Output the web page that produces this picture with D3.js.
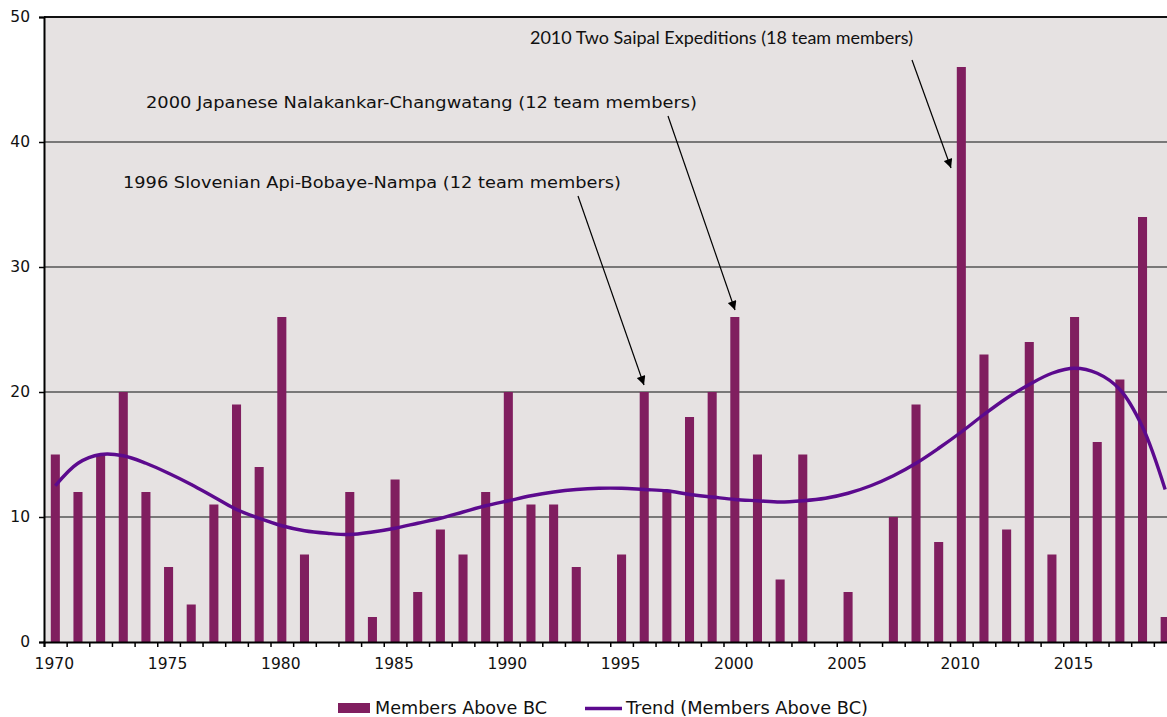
<!DOCTYPE html>
<html>
<head>
<meta charset="utf-8">
<script src="https://cdn.jsdelivr.net/npm/d3@7"></script>
<style>
  html, body { margin: 0; padding: 0; background: #fff; }
  svg { display: block; font-family: "DejaVu Sans", Verdana, sans-serif; }
</style>
</head>
<body>
<svg id="chart" width="1167" height="717"></svg>
<script>
// data
const years = [1970, 1971, 1972, 1973, 1974, 1975, 1976, 1977, 1978, 1979,
  1980, 1981, 1982, 1983, 1984, 1985, 1986, 1987, 1988, 1989,
  1990, 1991, 1992, 1993, 1994, 1995, 1996, 1997, 1998, 1999,
  2000, 2001, 2002, 2003, 2004, 2005, 2006, 2007, 2008, 2009,
  2010, 2011, 2012, 2013, 2014, 2015, 2016, 2017, 2018, 2019];
const members = [15, 12, 15, 20, 12, 6, 3, 11, 19, 14,
  26, 7, 0, 12, 2, 13, 4, 9, 7, 12,
  20, 11, 11, 6, 0, 7, 20, 12, 18, 20,
  26, 15, 5, 15, 0, 4, 0, 10, 19, 8,
  46, 23, 9, 24, 7, 26, 16, 21, 34, 2];
const trend = [12.5, 14.3, 15.0, 14.9, 14.3, 13.5, 12.6, 11.6, 10.6, 9.9,
  9.3, 8.9, 8.7, 8.6, 8.8, 9.1, 9.5, 9.9, 10.4, 10.9,
  11.3, 11.7, 12.0, 12.2, 12.3, 12.3, 12.2, 12.1, 11.8, 11.6,
  11.4, 11.3, 11.2, 11.3, 11.5, 11.9, 12.5, 13.3, 14.3, 15.5,
  16.8, 18.2, 19.5, 20.6, 21.5, 21.9, 21.5, 20.2, 17.2, 12.2];
const yTicks = [0, 10, 20, 30, 40, 50];
const xTickLabels = [1970, 1975, 1980, 1985, 1990, 1995, 2000, 2005, 2010, 2015];
const notes = [
  { year: 1996, text: "1996 Slovenian Api-Bobaye-Nampa (12 team members)" },
  { year: 2000, text: "2000 Japanese Nalakankar-Changwatang (12 team members)" },
  { year: 2010, text: "2010 Two Saipal Expeditions (18 team members)" }
];
const seriesNames = ["Members Above BC", "Trend (Members Above BC)"];

const barColor = "#801e5f";
const trendColor = "#5c0a8e";

const svg = d3.select("#chart");
const mLeft = 44, mTop = 17, mBottom = 642;
const step = 22.65;
const mRight = mLeft + step * years.length; // runs past the window edge, as in the original

const x = d3.scaleBand().domain(years).range([mLeft, mRight]).paddingInner(0.6).paddingOuter(0.3);
const xl = d3.scaleLinear().domain([years[0], years[years.length - 1] + 1]).range([mLeft, mRight]);
const y = d3.scaleLinear().domain([0, 50]).range([mBottom, mTop]);
const cx = d => x(d) + x.bandwidth() / 2;

// plot background
svg.append("rect")
  .attr("x", mLeft).attr("y", mTop)
  .attr("width", mRight - mLeft).attr("height", mBottom - mTop)
  .attr("fill", "#e6e2e2");

// gridlines
svg.append("g")
  .selectAll("line")
  .data(yTicks.filter(d => d > 0))
  .join("line")
  .attr("x1", mLeft).attr("x2", mRight)
  .attr("y1", d => y(d)).attr("y2", d => y(d))
  .attr("stroke", d => d === 50 ? "#111" : "#555")
  .attr("stroke-width", d => d === 50 ? 2 : 1.6);

// bars
svg.append("g")
  .selectAll("rect")
  .data(years)
  .join("rect")
  .attr("x", d => x(d))
  .attr("y", (d, i) => y(members[i]))
  .attr("width", x.bandwidth())
  .attr("height", (d, i) => mBottom - y(members[i]))
  .attr("fill", barColor);

// trend
const line = d3.line()
  .x((d, i) => cx(years[i]))
  .y(d => y(d))
  .curve(d3.curveCatmullRom.alpha(0.5));

svg.append("path")
  .datum(trend)
  .attr("d", line)
  .attr("fill", "none")
  .attr("stroke", trendColor)
  .attr("stroke-width", 3.4);

// y axis
const yAxis = svg.append("g")
  .attr("transform", `translate(${mLeft},0)`)
  .call(d3.axisLeft(y).tickValues(yTicks).tickSize(5).tickPadding(9));
yAxis.select(".domain").attr("stroke", "#000").attr("stroke-width", 2);
yAxis.selectAll(".tick line").attr("stroke", "#000").attr("stroke-width", 1.5);
yAxis.selectAll("text").attr("font-size", 15.5).attr("fill", "#111")
  .attr("font-family", "DejaVu Sans");

// x axis: ticks sit on the band edges
const xAxis = svg.append("g")
  .attr("transform", `translate(0,${mBottom})`)
  .call(d3.axisBottom(xl).tickValues(years.concat(years[years.length - 1] + 1)).tickSize(5).tickFormat(""));
xAxis.select(".domain").attr("stroke", "#000").attr("stroke-width", 2);
xAxis.selectAll(".tick line").attr("stroke", "#000").attr("stroke-width", 1.5);

svg.append("g")
  .selectAll("text")
  .data(xTickLabels)
  .join("text")
  .attr("x", d => cx(d) - 1)
  .attr("y", 669)
  .attr("text-anchor", "middle")
  .attr("font-size", 15.5)
  .attr("fill", "#111")
  .text(d => d);

// annotations
const defs = svg.append("defs");
defs.append("marker")
  .attr("id", "arrow")
  .attr("viewBox", "0 0 10 10")
  .attr("refX", 10).attr("refY", 5)
  .attr("markerWidth", 11).attr("markerHeight", 9)
  .attr("markerUnits", "userSpaceOnUse")
  .attr("orient", "auto")
  .append("path")
  .attr("d", "M0,0L10,5L0,10Z")
  .attr("fill", "#000");

const noteLayout = [
  { tx: 123, ty: 188, w: 498, size: 16.5, font: "DejaVu Sans", from: [578, 196], to: [644, 385] },
  { tx: 146, ty: 108, w: 551, size: 16.5, font: "DejaVu Sans", from: [668, 116], to: [735, 310] },
  { tx: 530, ty: 44, w: 383, size: 17.5, font: "Lato", from: [912, 60], to: [951, 168] }
];

notes.forEach((n, i) => {
  const l = noteLayout[i];
  svg.append("text")
    .attr("x", l.tx).attr("y", l.ty)
    .attr("font-family", l.font)
    .attr("font-size", l.size)
    .attr("fill", "#111")
    .attr("textLength", l.w)
    .attr("lengthAdjust", "spacingAndGlyphs")
    .text(n.text);
  svg.append("line")
    .attr("x1", l.from[0]).attr("y1", l.from[1])
    .attr("x2", l.to[0]).attr("y2", l.to[1])
    .attr("stroke", "#000")
    .attr("stroke-width", 1.2)
    .attr("marker-end", "url(#arrow)");
});

// legend
const legend = svg.append("g");
legend.append("rect")
  .attr("x", 338).attr("y", 703).attr("width", 32).attr("height", 10)
  .attr("fill", barColor);
legend.append("text")
  .attr("x", 375).attr("y", 714)
  .attr("font-size", 17.5).attr("fill", "#111")
  .attr("textLength", 172).attr("lengthAdjust", "spacingAndGlyphs")
  .text(seriesNames[0]);
legend.append("line")
  .attr("x1", 585).attr("x2", 622).attr("y1", 708.5).attr("y2", 708.5)
  .attr("stroke", trendColor).attr("stroke-width", 3.5);
legend.append("text")
  .attr("x", 626).attr("y", 714)
  .attr("font-size", 17.5).attr("fill", "#111")
  .attr("textLength", 242).attr("lengthAdjust", "spacingAndGlyphs")
  .text(seriesNames[1]);
</script>
</body>
</html>
